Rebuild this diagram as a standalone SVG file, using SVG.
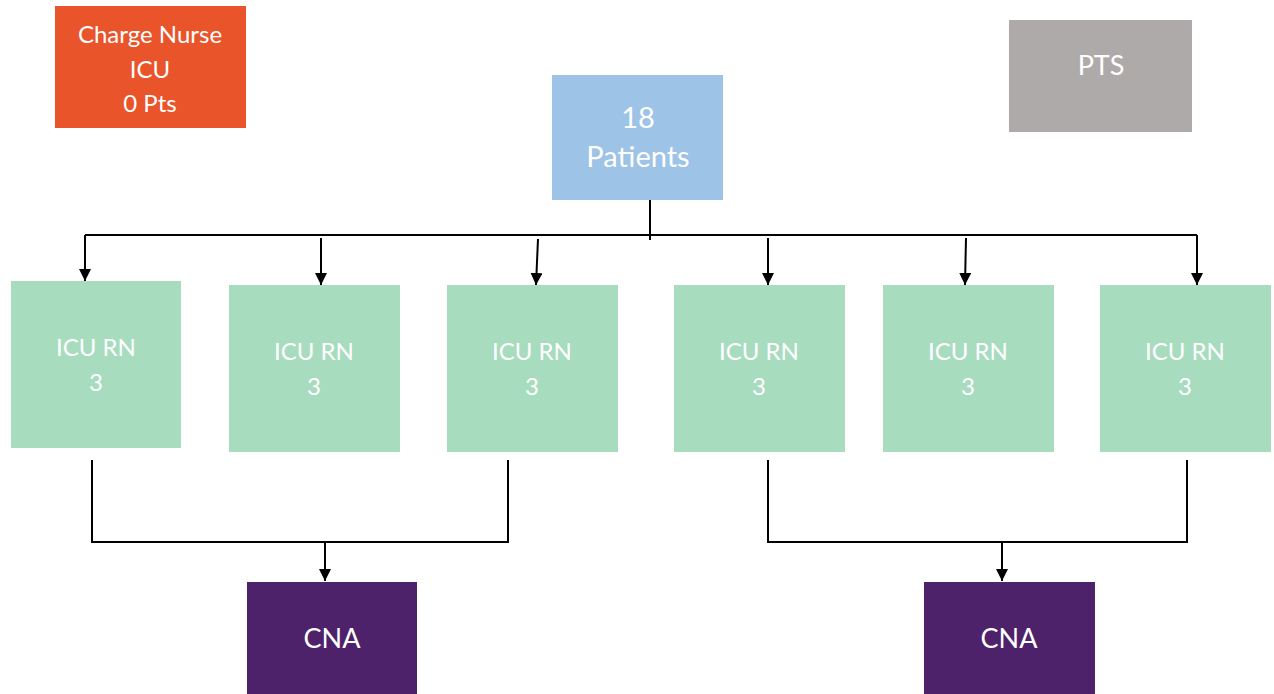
<svg xmlns="http://www.w3.org/2000/svg" width="1274" height="694" viewBox="0 0 1274 694">
<style>
  text { font-family: Lato, "Open Sans", sans-serif; fill: #ffffff; text-anchor: middle; }
  .rn rect { fill: #A8DCBF; }
  .rn text { font-size: 24px; }
  .cna rect { fill: #4E216B; }
  .cna text { font-size: 27px; }
  .conn { stroke: #000; stroke-width: 2; fill: none; }
</style>
<defs>
  <marker id="ah" markerUnits="userSpaceOnUse" markerWidth="14" markerHeight="12" refX="12" refY="6" orient="auto">
    <path d="M0,0 L12,6 L0,12 Z" fill="#000"/>
  </marker>
</defs>
<rect width="1274" height="694" fill="#ffffff"/>
<g id="charge-nurse">
  <rect x="55" y="6" width="191" height="122" fill="#E9542A"/>
  <text x="150" y="43" font-size="24">Charge Nurse</text>
  <text x="150" y="78" font-size="24">ICU</text>
  <text x="150" y="112" font-size="24">0 Pts</text>
</g>
<g id="patients">
  <rect x="552" y="75" width="171" height="125" fill="#9DC3E6"/>
  <text x="638" y="128" font-size="29">18</text>
  <text x="638" y="167" font-size="29">Patients</text>
</g>
<g id="pts">
  <rect x="1009" y="20" width="183" height="112" fill="#AEAAAA"/>
  <text x="1101" y="75" font-size="27">PTS</text>
</g>
<g id="rn1" class="rn"><rect x="11" y="281" width="170" height="167"/><text x="96" y="356">ICU RN</text><text x="96" y="391">3</text></g>
<g id="rn2" class="rn"><rect x="229" y="285" width="171" height="167"/><text x="314" y="360">ICU RN</text><text x="314" y="395">3</text></g>
<g id="rn3" class="rn"><rect x="447" y="285" width="171" height="167"/><text x="532" y="360">ICU RN</text><text x="532" y="395">3</text></g>
<g id="rn4" class="rn"><rect x="674" y="285" width="171" height="167"/><text x="759" y="360">ICU RN</text><text x="759" y="395">3</text></g>
<g id="rn5" class="rn"><rect x="883" y="285" width="171" height="167"/><text x="968" y="360">ICU RN</text><text x="968" y="395">3</text></g>
<g id="rn6" class="rn"><rect x="1100" y="285" width="171" height="167"/><text x="1185" y="360">ICU RN</text><text x="1185" y="395">3</text></g>
<g id="cna1" class="cna"><rect x="247" y="582" width="170" height="112"/><text x="332" y="648">CNA</text></g>
<g id="cna2" class="cna"><rect x="924" y="582" width="171" height="112"/><text x="1009" y="648">CNA</text></g>
<g id="connectors" class="conn">
  <path d="M650,200 V240"/>
  <path d="M85,235 H1197"/>
  <path d="M85,235 V281" marker-end="url(#ah)"/>
  <path d="M321,238 V285" marker-end="url(#ah)"/>
  <path d="M538,239 L536,285" marker-end="url(#ah)"/>
  <path d="M768,238 V285" marker-end="url(#ah)"/>
  <path d="M966,238 L965,285" marker-end="url(#ah)"/>
  <path d="M1197,235 V285" marker-end="url(#ah)"/>
  <path d="M92,460 V542 H508 V460"/>
  <path d="M325,542 V581" marker-end="url(#ah)"/>
  <path d="M768,460 V542 H1187 V460"/>
  <path d="M1002,542 V581" marker-end="url(#ah)"/>
</g>
</svg>
